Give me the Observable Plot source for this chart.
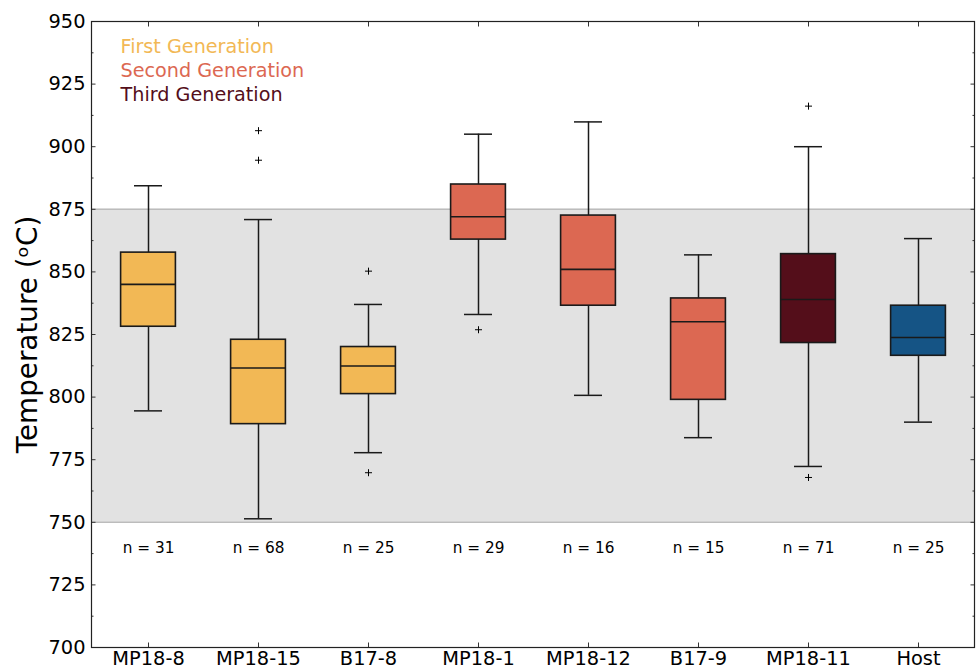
<!DOCTYPE html>
<html>
<head>
<meta charset="utf-8">
<script src="https://cdn.jsdelivr.net/npm/d3@7"></script>
<script src="https://cdn.jsdelivr.net/npm/@observablehq/plot@0.6"></script>
<style>
  html, body { margin: 0; padding: 0; background: #ffffff; }
  #chart svg { overflow: visible; display: block; }
</style>
</head>
<body>
<div id="chart"></div>
<script>
// ---- data ----
const categories = ["MP18-8", "MP18-15", "B17-8", "MP18-1", "MP18-12", "B17-9", "MP18-11", "Host"];
const generation = ["First", "First", "First", "Second", "Second", "Second", "Third", "Host"];
const whiskerLow  = [794.5, 751.4, 777.8, 833.0, 800.7, 783.8, 772.3, 790.0];
const q1          = [828.1, 789.2, 801.2, 862.9, 836.5, 798.9, 821.6, 816.5];
const median      = [845.0, 811.6, 812.4, 872.0, 851.0, 830.1, 839.0, 823.8];
const q3          = [857.7, 822.9, 820.0, 884.9, 872.5, 839.4, 857.1, 836.5];
const whiskerHigh = [884.4, 870.9, 837.0, 905.0, 909.9, 856.8, 900.0, 863.3];
const counts      = [31, 68, 25, 29, 16, 15, 71, 25];
const outlierCategory = ["MP18-15", "MP18-15", "B17-8", "B17-8", "MP18-1", "MP18-11", "MP18-11"];
const outlierValue    = [906.4, 894.6, 850.3, 769.8, 826.9, 916.2, 767.9];
const shadedRange = [750, 875];
const legendLabels = ["First Generation", "Second Generation", "Third Generation"];
const legendKeys = ["First", "Second", "Third"];
const yMajorTicks = [700, 725, 750, 775, 800, 825, 850, 875, 900, 925, 950];
const yMinorTicks = [712.5, 737.5, 762.5, 787.5, 812.5, 837.5, 862.5, 887.5, 912.5, 937.5];
const yLabel = "Temperature (ᵒC)";

// ---- styling ----
const colors = {First: "#f2b855", Second: "#dc6852", Third: "#540e1a", Host: "#155485"};
const nLabelValue = 739.5;
const legendOffsets = [25.4, 49.6, 73.6];

const rows = categories.map((c, i) => ({
  category: c, gen: generation[i], lo: whiskerLow[i], q1: q1[i], med: median[i],
  q3: q3[i], hi: whiskerHigh[i], n: counts[i]
}));
const outliers = outlierCategory.map((c, i) => ({category: c, value: outlierValue[i]}));

const boxInset = 27.6;
const capInset = 41;
const blank = () => "";

const legendMarks = legendLabels.map((t, i) =>
  Plot.text([t], {frameAnchor: "top-left", text: d => d, textAnchor: "start", lineAnchor: "middle",
    dx: 29, dy: legendOffsets[i], fill: colors[legendKeys[i]], fontSize: 19.2})
);

const chart = Plot.plot({
  width: 976,
  height: 670,
  marginLeft: 91,
  marginRight: 2,
  marginTop: 21,
  marginBottom: 23,
  style: {fontFamily: "DejaVu Sans", background: "#ffffff", color: "#000"},
  x: {type: "band", domain: categories, padding: 0, label: null},
  y: {domain: [700, 950], label: null},
  marks: [
    Plot.rectY([shadedRange], {y1: d => d[0], y2: d => d[1], fill: "#e2e2e2"}),
    Plot.ruleY(shadedRange, {stroke: "#bcbcbc", strokeWidth: 1.5}),
    // whiskers
    Plot.ruleX(rows, {x: "category", y1: "lo", y2: "q1", stroke: "#1a1a1a", strokeWidth: 1.5}),
    Plot.ruleX(rows, {x: "category", y1: "q3", y2: "hi", stroke: "#1a1a1a", strokeWidth: 1.5}),
    Plot.tickY(rows, {x: "category", y: "lo", stroke: "#1a1a1a", strokeWidth: 1.5, insetLeft: capInset, insetRight: capInset}),
    Plot.tickY(rows, {x: "category", y: "hi", stroke: "#1a1a1a", strokeWidth: 1.5, insetLeft: capInset, insetRight: capInset}),
    // boxes
    Plot.barY(rows, {x: "category", y1: "q1", y2: "q3", fill: d => colors[d.gen], stroke: "#1a1a1a", strokeWidth: 1.6, insetLeft: boxInset, insetRight: boxInset}),
    Plot.tickY(rows, {x: "category", y: "med", stroke: "#1a1a1a", strokeWidth: 1.6, insetLeft: boxInset, insetRight: boxInset}),
    // outliers
    Plot.dot(outliers, {x: "category", y: "value", symbol: "plus", r: 2.4, stroke: "#000", strokeWidth: 1}),
    // n labels
    Plot.text(rows, {x: "category", y: () => nLabelValue, text: d => `n = ${d.n}`, fontSize: 15.3, fill: "#000"}),
    // legend
    ...legendMarks,
    // axes
    Plot.axisY(yMajorTicks, {anchor: "left", tickSize: -4.5, tickPadding: 10.5, fontSize: 19.4, label: null, stroke: "#333", fill: "#000"}),
    Plot.axisY(yMinorTicks, {anchor: "left", tickSize: -2.5, tickFormat: blank, label: null, stroke: "#333"}),
    Plot.axisY(yMajorTicks, {anchor: "right", tickSize: -4.5, tickFormat: blank, label: null, stroke: "#333"}),
    Plot.axisY(yMinorTicks, {anchor: "right", tickSize: -2.5, tickFormat: blank, label: null, stroke: "#333"}),
    Plot.axisX({anchor: "bottom", tickSize: -4.5, tickPadding: 8.5, fontSize: 19.4, label: null, stroke: "#333", fill: "#000"}),
    Plot.axisX({anchor: "top", tickSize: -4.5, tickFormat: blank, label: null, stroke: "#333"}),
    Plot.text([yLabel], {frameAnchor: "left", text: d => d, rotate: -90, textAnchor: "middle", lineAnchor: "middle", dx: -63, fontSize: 27.8, fill: "#000"}),
    Plot.frame({stroke: "#222", strokeWidth: 1.2})
  ]
});

document.getElementById("chart").append(chart);
</script>
</body>
</html>
